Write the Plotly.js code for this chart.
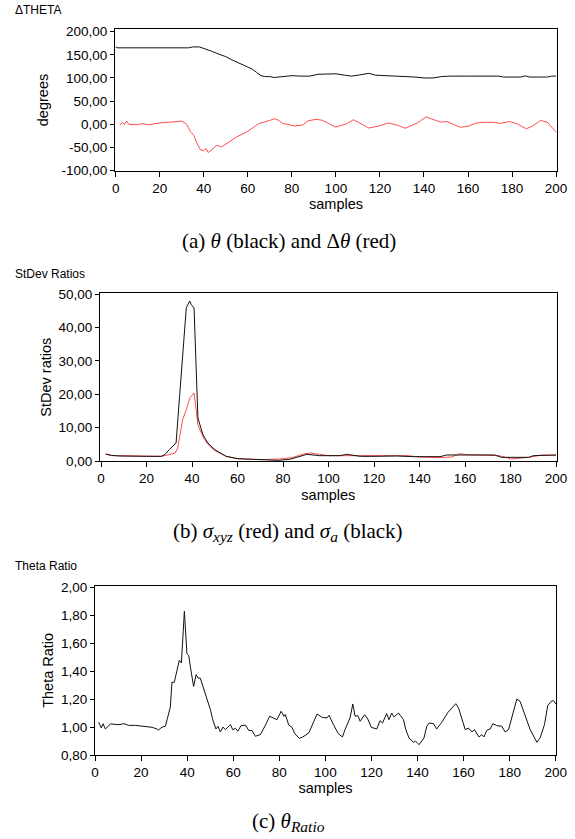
<!DOCTYPE html>
<html>
<head>
<meta charset="utf-8">
<script src="https://cdn.plot.ly/plotly-3.0.1.min.js"></script>
<style>html,body{margin:0;padding:0;background:#fff;}#chart{width:575px;height:839px;}</style>
</head>
<body>
<div id="chart"></div>
<script>
// ---------- Panel (a): theta (black) and delta theta (red) ----------
const thetaX = [0, 1, 33, 35, 38, 40, 42, 44, 46, 48, 50, 52, 54, 56, 58, 60, 62, 64, 66, 68, 70, 72, 74, 76, 80, 84, 88, 92, 96, 100, 104, 107, 110, 115, 118, 122, 128, 132, 136, 140, 144, 148, 152, 160, 168, 174, 176, 180, 184, 186, 188, 192, 196, 198, 200];
const thetaY = [167, 165, 165, 167, 167, 164, 161, 157, 153, 150, 146, 141, 136, 132, 128, 124, 119, 112, 105, 103, 103, 101, 102, 104, 105, 104, 104, 108, 108, 109, 106, 104, 106, 110, 106, 105, 105, 104, 102, 100, 100, 103, 104, 104, 104, 104, 102, 102, 102, 104.5, 102, 102, 102, 104, 104];
const dThetaX = [2, 3, 4, 5, 6, 8, 10, 12, 15, 20, 25, 28, 30, 32, 34, 35.5, 37, 38.5, 40, 41, 42, 43.5, 46, 48, 50, 55, 60, 65, 70, 72, 74, 76, 78, 81, 85, 87, 91, 94, 100, 105, 108, 111, 115, 120, 124, 128, 131.5, 137, 141, 143.5, 147.5, 150.5, 153.5, 156.5, 160, 164, 167, 171.5, 174.5, 179, 182, 186.5, 189, 193, 196, 198, 200];
const dThetaY = [-2, 4, 0, 7, 0, -1, -1, 1.5, -1, 3, 4, 6, 7, 1.5, -16, -24, -42, -55, -57, -52, -61, -55, -45, -49, -43, -27, -15, 1.5, 8.5, 12, 8.5, 1.5, 0, -3.5, -1.5, 7, 11, 8.5, -6, 1.5, 10, 1.5, -8, -3, 3, -2, -8.5, 3, 16, 11.5, 5, 6, 0, -6.5, -4, 3, 4.5, 4.5, 2, 6, 1.5, -9.5, -4.5, 8.5, 4.5, -7, -16.5];

// ---------- Panel (b): StDev ratios ----------
const sigmaAX = [2, 4.5, 8, 13, 20, 26.5, 28, 30, 33, 34.6, 36.5, 37.5, 39, 39.6, 40.9, 42.6, 44.8, 47, 50, 55, 60, 65, 72, 78, 83, 87.5, 90.5, 96, 105, 108, 114, 120, 130, 137, 149, 152, 165, 173, 176, 188, 190, 197, 200];
const sigmaAY = [2.1, 1.7, 1.5, 1.4, 1.4, 1.4, 1.9, 3.4, 5.4, 20, 38, 46, 48, 47, 45.9, 12.9, 7.9, 5.4, 3.4, 1.4, 0.7, 0.5, 0.4, 0.2, 0.5, 1.5, 2.0, 1.6, 1.6, 2.0, 1.4, 1.4, 1.5, 1.3, 1.3, 1.8, 1.8, 1.8, 1.1, 1.1, 1.6, 1.6, 1.8];
const sigmaXyzX = [2, 4.5, 8, 13, 20, 26.5, 30, 32.6, 33.7, 35.9, 37.5, 39, 40.9, 41.5, 42.6, 43.5, 45.5, 47, 50, 55, 60, 65, 70, 78.5, 84, 89, 92, 96, 100, 105, 115, 125, 135, 140, 149, 154, 157.8, 160.5, 170, 175, 180.5, 185, 188, 194, 200];
const sigmaXyzY = [2.1, 1.6, 1.6, 1.5, 1.4, 1.4, 1.9, 2.4, 3.9, 12.4, 15.4, 18.9, 20.4, 17, 10.9, 9.3, 6.4, 5, 3.1, 1.4, 0.7, 0.5, 0.4, 0.6, 1.0, 2.1, 2.4, 2.0, 1.6, 1.6, 1.6, 1.6, 1.6, 1.2, 1.0, 1.2, 2.2, 1.9, 1.6, 1.6, 0.6, 0.9, 1.1, 1.8, 1.7];

// ---------- Panel (c): Theta ratio ----------
const ratioX = [1.6, 2.75, 3.5, 4.5, 6.7, 10.3, 12.5, 14.6, 17.5, 20.4, 22.6, 24.8, 26.9, 27.6, 29.1, 30.5, 31.3, 32.7, 33.4, 34.4, 35.6, 36.6, 37.5, 38.8, 39.9, 40.7, 41.5, 42.8, 43.9, 44.7, 45.7, 47.2, 48.6, 50.1, 51.1, 52.5, 53.4, 54.4, 55.6, 56.6, 58.8, 59.8, 61, 62, 63.4, 65.3, 66.7, 68.2, 69.6, 71.8, 74, 75.8, 79, 80.8, 82, 82.6, 84.1, 85.5, 86.7, 88.7, 90.2, 92.8, 96.4, 98.6, 100.7, 101.6, 103.5, 105.6, 107.4, 108.5, 110.7, 111.9, 112.9, 114.1, 115.1, 117, 118.4, 119.9, 122.3, 123.7, 124.8, 126.6, 127.6, 128.8, 129.8, 131.7, 133.9, 134.9, 136.3, 138.2, 139.2, 140.7, 142.8, 144, 145, 146.9, 148.3, 150.5, 153.2, 154.6, 156.6, 157.8, 159.2, 160.7, 162.1, 163.6, 164.7, 166.7, 167.9, 168.8, 170.1, 171.5, 172.7, 174.4, 176.6, 178, 179.5, 181.4, 183.1, 184.5, 186.7, 188.9, 191.8, 193.2, 195.1, 196.5, 198, 199, 200];
const ratioY = [1.034, 0.993, 1.024, 0.986, 1.022, 1.017, 1.024, 1.012, 1.012, 1.005, 1.000, 0.998, 0.986, 0.979, 1.000, 1.005, 1.053, 1.143, 1.32, 1.32, 1.406, 1.478, 1.458, 1.828, 1.525, 1.51, 1.42, 1.29, 1.375, 1.35, 1.35, 1.272, 1.208, 1.124, 1.053, 0.986, 1.005, 0.965, 1.000, 0.981, 1.017, 0.981, 0.991, 0.97, 1.01, 1.014, 0.977, 0.974, 0.934, 0.946, 1.014, 1.077, 1.053, 1.113, 1.077, 1.089, 1.014, 0.998, 0.953, 0.919, 0.929, 0.958, 1.093, 1.069, 1.065, 1.084, 1.017, 0.953, 0.929, 0.981, 1.065, 1.165, 1.077, 1.082, 1.041, 1.088, 1.058, 0.998, 0.986, 1.046, 1.029, 1.096, 1.053, 1.1, 1.072, 1.1, 1.053, 0.981, 0.922, 0.891, 0.898, 0.874, 0.922, 1.005, 1.029, 1.024, 0.986, 1.034, 1.105, 1.129, 1.167, 1.136, 1.053, 0.981, 0.993, 0.965, 0.981, 0.929, 0.946, 0.929, 0.977, 0.986, 1.024, 1.010, 1.005, 0.965, 0.981, 1.1, 1.2, 1.184, 1.089, 0.981, 0.891, 0.922, 1.017, 1.153, 1.184, 1.19, 1.165];

// ---------- Tick labels ----------
const xTickVals = [0, 20, 40, 60, 80, 100, 120, 140, 160, 180, 200];
const xTickText = ["0", "20", "40", "60", "80", "100", "120", "140", "160", "180", "200"];
const yTickValsA = [-100, -50, 0, 50, 100, 150, 200];
const yTickTextA = ["-100,00", "-50,00", "0,00", "50,00", "100,00", "150,00", "200,00"];
const yTickValsB = [0, 10, 20, 30, 40, 50];
const yTickTextB = ["0,00", "10,00", "20,00", "30,00", "40,00", "50,00"];
const yTickValsC = [0.8, 1.0, 1.2, 1.4, 1.6, 1.8, 2.0];
const yTickTextC = ["0,80", "1,00", "1,20", "1,40", "1,60", "1,80", "2,00"];

const W = 575, H = 839;
const RED = '#ff4d4d', BLACK = '#111111';
const sans = 'Liberation Sans, Arial, sans-serif';
const serif = 'Liberation Serif, Times New Roman, serif';

function px(x) { return x / W; }
function py(y) { return 1 - y / H; }

function xAxis(domain, range, anchor, standoff) {
  return {
    domain: domain, range: range, anchor: anchor,
    tickmode: 'array', tickvals: xTickVals, ticktext: xTickText,
    ticks: 'outside', ticklen: 5, tickwidth: 1, tickcolor: '#000',
    showline: true, linecolor: '#000', linewidth: 1, mirror: true,
    showgrid: false, zeroline: false,
    tickfont: {family: sans, size: 13.5, color: '#000'},
    title: {text: 'samples', standoff: standoff, font: {family: sans, size: 14.5, color: '#000'}}
  };
}
function yAxis(domain, range, anchor, vals, text, title, standoff) {
  return {
    domain: domain, range: range, anchor: anchor,
    tickmode: 'array', tickvals: vals, ticktext: text,
    ticks: 'outside', ticklen: 4, tickwidth: 1, tickcolor: '#000',
    showline: true, linecolor: '#000', linewidth: 1, mirror: true,
    showgrid: false, zeroline: false,
    tickfont: {family: sans, size: 13.5, color: '#000'},
    title: {text: title, standoff: standoff, font: {family: sans, size: 14.5, color: '#000'}}
  };
}

const traces = [
  {x: thetaX, y: thetaY, xaxis: 'x', yaxis: 'y', mode: 'lines', line: {color: BLACK, width: 1}, name: 'θ'},
  {x: dThetaX, y: dThetaY, xaxis: 'x', yaxis: 'y', mode: 'lines', line: {color: RED, width: 1}, name: 'Δθ'},
  {x: sigmaXyzX, y: sigmaXyzY, xaxis: 'x2', yaxis: 'y2', mode: 'lines', line: {color: RED, width: 1}, name: 'σxyz'},
  {x: sigmaAX, y: sigmaAY, xaxis: 'x2', yaxis: 'y2', mode: 'lines', line: {color: BLACK, width: 1}, name: 'σa'},
  {x: ratioX, y: ratioY, xaxis: 'x3', yaxis: 'y3', mode: 'lines', line: {color: BLACK, width: 1}, name: 'θRatio'}
];

function ann(text, x, y, opts) {
  return Object.assign({text: text, x: px(x), y: py(y), xref: 'paper', yref: 'paper',
    showarrow: false, xanchor: 'center', yanchor: 'middle',
    font: {family: sans, size: 14, color: '#000'}}, opts || {});
}
const capFont = {family: serif, size: 21, color: '#000'};
const titleFont = {family: sans, size: 12, color: '#000'};
const subSpan = (t) => '<sub><span style="font-size:15.5px">' + t + '</span></sub>';

const layout = {
  width: W, height: H,
  margin: {l: 0, r: 0, t: 0, b: 0},
  paper_bgcolor: '#fff', plot_bgcolor: '#fff',
  showlegend: false,
  xaxis: xAxis([px(115), px(557)], [-0.3, 200.4], 'y', 2),
  yaxis: yAxis([py(170.7), py(29.3)], [-100, 205], 'x', yTickValsA, yTickTextA, 'degrees', 9),
  xaxis2: xAxis([px(100), px(556.7)], [-0.44, 200.3], 'y2', 4),
  yaxis2: yAxis([py(461), py(293.3)], [0, 50.3], 'x2', yTickValsB, yTickTextB, 'StDev ratios', 3),
  xaxis3: xAxis([px(95), px(556)], [0, 200.1], 'y3', 3),
  yaxis3: yAxis([py(755), py(585.7)], [0.8, 2.011], 'x3', yTickValsC, yTickTextC, 'Theta Ratio', 3),
  annotations: [
    ann('ΔTHETA', 13, 10, {xanchor: 'left', font: titleFont}),
    ann('StDev Ratios', 13, 274, {xanchor: 'left', font: titleFont}),
    ann('Theta Ratio', 13, 566, {xanchor: 'left', font: titleFont}),
    ann('(a) <i>θ</i> (black) and Δ<i>θ</i> (red)', 289, 241, {font: capFont}),
    ann('(b) <i>σ</i>' + subSpan('<i>xyz</i>') + ' (red) and <i>σ</i>' + subSpan('<i>a</i>') + ' (black)', 288, 532, {font: capFont}),
    ann('(c) <i>θ</i>' + subSpan('<i>Ratio</i>'), 288, 822, {font: capFont})
  ]
};

Plotly.newPlot('chart', traces, layout, {staticPlot: true, displayModeBar: false});
</script>
</body>
</html>
